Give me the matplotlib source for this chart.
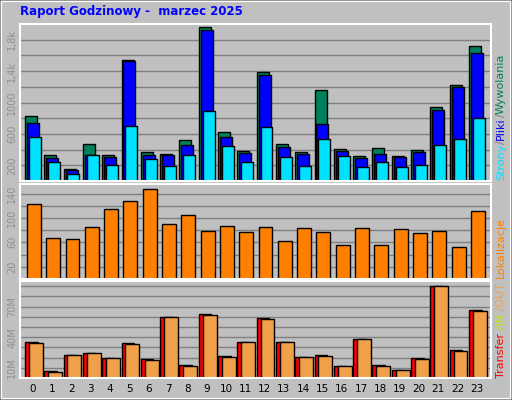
import matplotlib
matplotlib.use("Agg")
import matplotlib.pyplot as plt
from matplotlib.patches import Rectangle

hours = list(range(24))
hits = [822,325,158,467,325,1546,364,338,518,1957,621,377,1392,467,364,1161,403,313,415,313,390,942,1225,1726]
files = [737,287,146,325,300,1533,325,325,454,1919,557,351,1353,428,338,724,377,287,338,300,364,904,1199,1636]
pages = [557,248,94,325,210,698,274,197,325,891,441,236,685,300,197,531,313,184,248,184,210,454,531,801]
sites = [123,67,65,85,115,128,147,90,105,78,87,77,85,62,83,77,55,83,55,82,75,78,53,112]
transfer = [35.3,7.3,22.7,24.3,19.3,34.3,18.3,59.7,12.3,62.3,21.3,35.3,58.3,35.3,20.3,22.3,11.3,38.3,12.3,8.3,19.3,90.3,27.3,66.3]
out_ = [34.3,6.3,22.7,24.3,19.3,33.3,17.3,59.7,11.3,61.3,20.3,35.3,57.3,35.3,20.3,21.3,11.3,38.3,11.3,8.3,18.3,90.3,26.3,65.3]

BG = "#c0c0c0"
fig = plt.figure(figsize=(5.12, 4.0), dpi=100, facecolor=BG)
fig.patches.append(Rectangle((0, 0), 1, 1, transform=fig.transFigure, fill=False, ec="#808080", lw=3))
fig.patches.append(Rectangle((0.002, 0.004), 0.994, 0.993, transform=fig.transFigure, fill=False, ec="white", lw=1))

L, W = 20/512, 471/512
def mkax(top, bot):
    ax = fig.add_axes([L, 1-bot/400, W, (bot-top)/400])
    ax.set_facecolor(BG)
    for s in ax.spines.values():
        s.set_color("white"); s.set_linewidth(1.5)
    ax.set_xlim(-0.67, 23.73)
    ax.tick_params(axis="y", length=0, labelsize=7, labelcolor="#909090", pad=2, labelrotation=90)
    ax.set_axisbelow(True)
    ax.yaxis.grid(True, color="#808080", lw=1)
    return ax

a1 = mkax(24, 181)
a1.set_ylim(0, 2000)
a1.set_yticks(range(200, 2000, 200))
a1.set_yticklabels(["200", "", "600", "", "1000", "", "1,4k", "", "1,8k"], va="center")
a1.set_xticks([])
kw = dict(align="edge", edgecolor="black", linewidth=1)
a1.bar([h-0.41 for h in hours], hits, 0.62, color="#00805c", **kw)
a1.bar([h-0.31 for h in hours], files, 0.62, color="#0000ff", **kw)
a1.bar([h-0.21 for h in hours], pages, 0.62, color="#00e0ff", **kw)

a2 = mkax(184, 279)
a2.set_ylim(0, 155.6)
a2.set_yticks(range(20, 150, 20))
a2.set_yticklabels(["20", "", "60", "", "100", "", "140"], va="center")
a2.set_xticks([])
a2.bar([h-0.31 for h in hours], sites, 0.72, color="#ff8000", **kw)

a3 = mkax(281, 378)
a3.set_ylim(0, 95)
a3.set_yticks(range(10, 95, 10))
a3.set_yticklabels(["10M", "", "", "40M", "", "", "70M", "", ""], va="center")
a3.bar([h-0.41 for h in hours], transfer, 0.65, color="#ff0000", **kw)
a3.bar([h-0.21 for h in hours], out_, 0.72, color="#f0a048", **kw)
a3.set_xticks(hours)
a3.set_xticklabels([str(h) for h in hours])
a3.tick_params(axis="x", length=0, labelsize=7.5, pad=4)

fig.text(20/512, 1-12/400, "Raport Godzinowy -  marzec 2025", color="#0000ff",
         fontsize=8.5, fontweight="bold", va="center", ha="left")

def vlabel(x, y0, parts, fs=8):
    r = fig.canvas.get_renderer()
    y = y0
    for txt, c in parts:
        t = fig.text(x/512, 1-y/400, txt, color=c, rotation=90, fontsize=fs,
                     ha="center", va="bottom")
        bb = t.get_window_extent(renderer=r)
        y -= bb.height
vlabel(501, 180, [("Strony", "#00e0ff"), ("/", "#808080"), ("Pliki", "#0000ff"),
                  ("/", "#808080"), ("Wywolania", "#00805c")])
vlabel(501, 278, [("Lokalizacje", "#ff8000")])
vlabel(501, 378, [("Transfer", "#ff0000"), (" /IN", "#c0e000"), (" /OUT", "#f0a048")])

fig.savefig("out.png", dpi=100, facecolor=BG)
